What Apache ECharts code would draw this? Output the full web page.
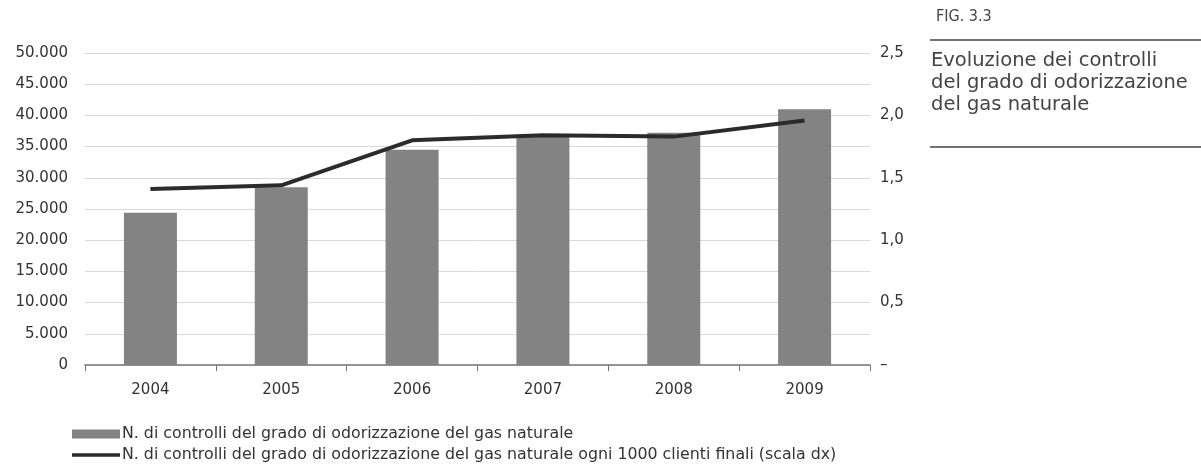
<!DOCTYPE html>
<html><head><meta charset="utf-8">
<script src="https://cdn.jsdelivr.net/npm/echarts@6/dist/echarts.min.js"></script>
<style>html,body{margin:0;padding:0;background:#fff}#c{width:1201px;height:465px}</style>
</head><body><div id="c"></div>
<script>
const years = ['2004','2005','2006','2007','2008','2009'];
const controlli = [24400, 28500, 34500, 36900, 37200, 41000];
const perMille = [1.41, 1.44, 1.80, 1.84, 1.83, 1.96];
const barName = 'N. di controlli del grado di odorizzazione del gas naturale';
const lineName = 'N. di controlli del grado di odorizzazione del gas naturale ogni 1000 clienti finali (scala dx)';
const figLabel = 'FIG. 3.3';
const titleLines = ['Evoluzione dei controlli', 'del grado di odorizzazione', 'del gas naturale'];

const font = '"DejaVu Sans", sans-serif';
const legendBase = {
  orient: 'horizontal', left: 67, itemGap: 0,
  itemWidth: 48, itemHeight: 9,
  textStyle: { fontSize: 15.8, color: '#333', fontFamily: font, padding: [0, 0, 0, -3] }
};
const chart = echarts.init(document.getElementById('c'));
chart.setOption({
  animation: false,
  textStyle: { fontFamily: font },
  grid: { left: 85, right: 331, top: 53, bottom: 100, containLabel: false },
  legend: [
    Object.assign({}, legendBase, { top: 421, data: [{ name: barName, icon: 'rect' }] }),
    Object.assign({}, legendBase, { top: 442, data: [{ name: lineName, icon: 'path://M0,3 L50,3 L50,6.5 L0,6.5 Z' }] })
  ],
  xAxis: {
    type: 'category', data: years, boundaryGap: true,
    axisLine: { lineStyle: { color: '#777', width: 1.5 } },
    axisTick: { show: true, length: 6, lineStyle: { color: '#777' } },
    axisLabel: { fontSize: 15, color: '#333', margin: 18 }
  },
  yAxis: [
    {
      type: 'value', min: 0, max: 50000, interval: 5000,
      axisLine: { show: false }, axisTick: { show: false },
      splitLine: { lineStyle: { color: '#d8d8d8', width: 1 } },
      axisLabel: { fontSize: 15, color: '#333', margin: 17,
        formatter: v => v === 0 ? '0' : v.toLocaleString('it-IT').replace(/,/g, '.') }
    },
    {
      type: 'value', min: 0, max: 2.5, interval: 0.5,
      axisLine: { show: false }, axisTick: { show: false },
      splitLine: { show: false },
      axisLabel: { fontSize: 15, color: '#333', margin: 10,
        formatter: v => v === 0 ? '–' : v.toFixed(1).replace('.', ',') }
    }
  ],
  series: [
    { name: barName, type: 'bar', data: controlli, barWidth: 53,
      itemStyle: { color: '#838383' } },
    { name: lineName, type: 'line', yAxisIndex: 1, data: perMille,
      symbol: 'none', lineStyle: { color: '#2b2b2b', width: 4 },
      itemStyle: { color: '#2b2b2b' } }
  ],
  graphic: [
    { type: 'text', left: 936, top: 9, style: { text: figLabel, font: '16px "Liberation Sans Narrow", "DejaVu Sans Condensed", sans-serif', fill: '#444' } },
    { type: 'line', shape: { x1: 930, y1: 40, x2: 1201, y2: 40 }, style: { stroke: '#444', lineWidth: 1.5 } },
    { type: 'text', left: 931, top: 50, style: { text: titleLines.join('\n'), font: '19.5px ' + font, lineHeight: 22, fill: '#444' } },
    { type: 'line', shape: { x1: 930, y1: 147, x2: 1201, y2: 147 }, style: { stroke: '#444', lineWidth: 1.5 } }
  ]
});
</script></body></html>
